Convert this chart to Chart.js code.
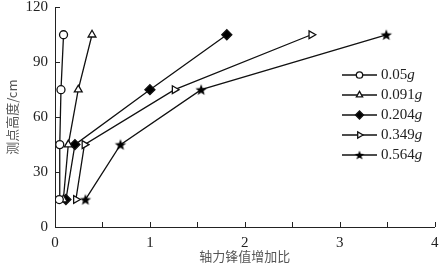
<!DOCTYPE html>
<html>
<head>
<meta charset="utf-8">
<script src="https://cdn.jsdelivr.net/npm/chart.js@4"></script>
<style>
  html, body { margin: 0; padding: 0; background: #fff; overflow: hidden; }
  #wrap { width: 442px; height: 271px; }
</style>
</head>
<body>
<div id="wrap"><canvas id="myChart"></canvas></div>
<script>
// data
const heights = [15, 45, 75, 105];
const seriesNames = ['0.05', '0.091', '0.204', '0.349', '0.564'];
const ratio005 = [0.045, 0.05, 0.063, 0.09];
const ratio0091 = [0.088, 0.14, 0.245, 0.39];
const ratio0204 = [0.115, 0.21, 1.0, 1.81];
const ratio0349 = [0.22, 0.31, 1.26, 2.70];
const ratio0564 = [0.32, 0.69, 1.54, 3.49];
const xTicks = [0, 1, 2, 3, 4];
const yTicks = [0, 30, 60, 90, 120];

// filled star marker
function makeStar(r) {
    const c = document.createElement('canvas');
    const s = Math.ceil(r * 2 + 2);
    c.width = s; c.height = s;
    const g = c.getContext('2d');
    g.beginPath();
    for (let i = 0; i < 10; i++) {
        const rad = i % 2 === 0 ? r : r * 0.42;
        const a = -Math.PI / 2 + i * Math.PI / 5;
        const px = s / 2 + rad * Math.cos(a);
        const py = s / 2 + 0.5 + rad * Math.sin(a);
        if (i === 0) g.moveTo(px, py); else g.lineTo(px, py);
    }
    g.closePath();
    g.fillStyle = '#000';
    g.fill();
    return c;
}
const starBig = makeStar(6);
const starSmall = makeStar(5);

const allX = [ratio005, ratio0091, ratio0204, ratio0349, ratio0564];
const styles = [
    { pointStyle: 'circle', fill: '#fff', radius: 4, rotation: 0 },
    { pointStyle: 'triangle', fill: '#fff', radius: 4.5, rotation: 0 },
    { pointStyle: 'rectRot', fill: '#000', radius: 5, rotation: 0 },
    { pointStyle: 'triangle', fill: '#fff', radius: 4.5, rotation: 90 },
    { pointStyle: starBig, fill: '#000', radius: 6, rotation: 0 }
];

const datasets = allX.map((xs, i) => ({
    label: seriesNames[i] + 'g',
    data: xs.map((x, k) => ({ x: x, y: heights[k] })),
    showLine: true,
    borderColor: '#111',
    borderWidth: 1.3,
    pointStyle: styles[i].pointStyle,
    pointRotation: styles[i].rotation,
    pointRadius: styles[i].radius,
    pointBackgroundColor: styles[i].fill,
    pointBorderColor: '#111',
    pointBorderWidth: 1.3
}));

// inward ticks on both axes
const innerTicks = {
    id: 'innerTicks',
    afterDraw(chart) {
        const ctx = chart.ctx;
        const xs = chart.scales.x, ys = chart.scales.y;
        ctx.save();
        ctx.strokeStyle = '#222';
        ctx.lineWidth = 1;
        ctx.beginPath();
        for (let v = 0.5; v <= 4; v += 0.5) {
            const px = Math.round(xs.getPixelForValue(v)) + 0.5;
            ctx.moveTo(px, ys.bottom);
            ctx.lineTo(px, ys.bottom - 5);
        }
        yTicks.slice(1).forEach(v => {
            const py = Math.round(ys.getPixelForValue(v)) + 0.5;
            ctx.moveTo(xs.left, py);
            ctx.lineTo(xs.left + 5, py);
        });
        ctx.stroke();
        ctx.restore();
    }
};

// legend with italic g
const customLegend = {
    id: 'customLegend',
    afterDraw(chart) {
        const ctx = chart.ctx;
        const x0 = 342, x1 = 377;
        chart.data.datasets.forEach((ds, i) => {
            const y = 75 + i * 20;
            ctx.save();
            ctx.strokeStyle = '#111';
            ctx.lineWidth = 1.5;
            ctx.beginPath();
            ctx.moveTo(x0, y);
            ctx.lineTo(x1, y);
            ctx.stroke();
            const cx = (x0 + x1) / 2;
            if (i === 4) {
                ctx.drawImage(starSmall, cx - starSmall.width / 2, y - starSmall.height / 2);
            } else {
                ctx.fillStyle = ds.pointBackgroundColor;
                ctx.strokeStyle = '#111';
                ctx.lineWidth = 1.3;
                Chart.helpers.drawPoint(ctx, {
                    pointStyle: ds.pointStyle,
                    rotation: ds.pointRotation,
                    radius: ds.pointRadius * 0.8,
                    borderWidth: 1.3
                }, cx, y);
            }
            ctx.fillStyle = '#222';
            ctx.textBaseline = 'middle';
            ctx.textAlign = 'left';
            ctx.font = '15px "Liberation Serif"';
            const txt = seriesNames[i];
            ctx.fillText(txt, 381, y);
            const w = ctx.measureText(txt).width;
            ctx.font = 'italic 15px "Liberation Serif"';
            ctx.fillText('g', 381 + w, y);
            ctx.restore();
        });
    }
};

const ctx1 = document.getElementById('myChart').getContext('2d');
new Chart(ctx1, {
    type: 'scatter',
    data: { datasets: datasets },
    options: {
        responsive: true,
        maintainAspectRatio: false,
        animation: false,
        layout: { padding: { left: 0, right: 0, top: 5, bottom: 0 } },
        plugins: {
            legend: { display: false },
            tooltip: { enabled: false }
        },
        scales: {
            x: {
                type: 'linear',
                min: 0, max: 4,
                afterBuildTicks: s => { s.ticks = xTicks.map(v => ({ value: v })); },
                afterFit: s => { s.height = 44; s.paddingLeft = 0; s.paddingRight = 0; },
                grid: { display: false, drawTicks: false },
                border: { display: true, color: '#222', width: 1 },
                ticks: { color: '#222', padding: 7, font: { family: 'Liberation Serif', size: 15 } },
                title: {
                    display: true, text: '轴力锋值增加比', color: '#555',
                    font: { family: 'Noto Sans CJK SC', size: 13 },
                    padding: { top: 0, bottom: 7 }
                }
            },
            y: {
                type: 'linear',
                min: 0, max: 120,
                afterBuildTicks: s => { s.ticks = yTicks.map(v => ({ value: v })); },
                afterFit: s => { s.width = 55; s.paddingTop = 0; s.paddingBottom = 0; },
                grid: { display: false, drawTicks: false },
                border: { display: true, color: '#222', width: 1 },
                ticks: { color: '#222', padding: 7, font: { family: 'Liberation Serif', size: 15 } },
                title: {
                    display: true, text: '测点高度/cm', color: '#555',
                    font: { family: 'Noto Sans CJK SC', size: 13 },
                    padding: { top: 4, bottom: 0 }
                }
            }
        }
    },
    plugins: [innerTicks, customLegend]
});
</script>
</body>
</html>
